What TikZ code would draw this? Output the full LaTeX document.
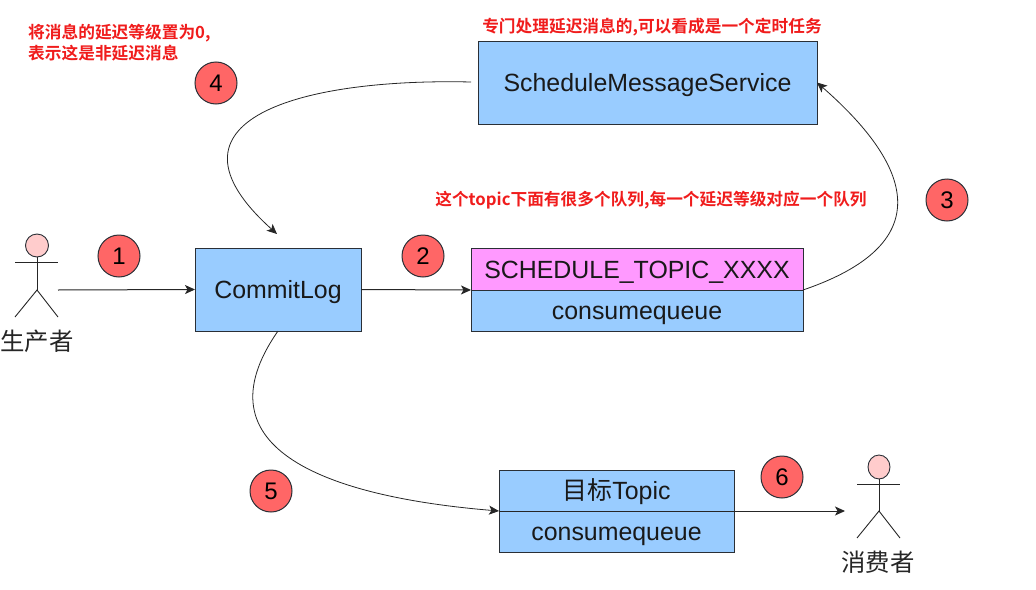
\documentclass[tikz,border=0pt]{standalone}
\usepackage{fontspec}
\setmainfont{Liberation Sans}
\newfontfamily\cjk{Noto Sans CJK SC}
\newfontfamily\cjkb{Noto Sans CJK SC Bold}
\usetikzlibrary{arrows.meta,shapes.geometric}
\definecolor{boxblue}{HTML}{99CCFF}
\definecolor{boxpink}{HTML}{FF99FF}
\definecolor{badge}{HTML}{FF6666}
\definecolor{headc}{HTML}{FFCCCC}
\definecolor{linec}{HTML}{2A2F36}
\definecolor{notered}{HTML}{F01C1C}
\tikzset{
  x=1pt,y=-1pt,
  boxn/.style={draw=linec,line width=1pt,fill=boxblue,inner sep=0pt,outer sep=0pt,text=black!90,text height=18pt,text depth=0pt,font=\fontsize{24.9}{26}\selectfont},
  badgen/.style={circle,draw=linec,line width=1pt,fill=badge,minimum size=42pt,inner sep=0pt,font=\fontsize{24}{26}\selectfont},
  conn/.style={draw=black!85,line width=1pt,-{Stealth[length=10pt,width=9pt,inset=2.5pt]}},
  thin conn/.style={conn,line width=.8pt},
  limb/.style={draw=black!85,line width=.9pt},
  headn/.style={ellipse,draw=linec,line width=.9pt,fill=headc,inner sep=0pt},
  note/.style={text=notered,font=\cjkb\fontsize{16.7}{21}\selectfont,inner sep=0pt,align=left},
  actorlabel/.style={inner sep=0pt,text=black!85,font=\cjk\fontsize{24.4}{26}\selectfont},
}
\begin{document}
\begin{tikzpicture}
\useasboundingbox (0,0) rectangle (1036,589);
% boxes
\node[boxn,minimum width=166pt,minimum height=83pt] (commit) at (278,289.5) {CommitLog};
\node[boxn,minimum width=339pt,minimum height=83pt] (sched) at (647.5,82.5) {ScheduleMessageService};
\node[boxn,fill=boxpink,minimum width=332pt,minimum height=42pt] (topicA) at (637,269) {SCHEDULE\_TOPIC\_XXXX};
\node[boxn,minimum width=332pt,minimum height=41pt] (topicB) at (637,310.5) {consumequeue};
\node[boxn,minimum width=235pt,minimum height=41pt] (targetA) at (616.5,490.5) {{\cjk 目标}Topic};
\node[boxn,minimum width=235pt,minimum height=41pt] (targetB) at (616.5,531.5) {consumequeue};
% badges
\node[badgen] (b1) at (119,256) {1};
\node[badgen] (b2) at (423,256) {2};
\node[badgen] (b3) at (947,200) {3};
\node[badgen] (b4) at (216,83) {4};
\node[badgen] (b5) at (271,491) {5};
\node[badgen] (b6) at (782,477) {6};
% producer
\node[headn,minimum width=23pt,minimum height=23pt] (phead) at (37,245.5) {};
\coordinate (parml) at (15,262);
\coordinate (parmr) at (58,262);
\coordinate (phip) at (37,290);
\coordinate (plegl) at (15,317);
\coordinate (plegr) at (58,317);
\coordinate (pout) at (58,290);
\draw[limb] (phead.south) -- (phip);
\draw[limb] (parml) -- (parmr);
\draw[limb] (plegl) -- (phip) -- (plegr);
\node[actorlabel] (plabel) at (37,341) {生产者};
% consumer
\node[headn,minimum width=22pt,minimum height=24pt] (chead) at (879,467) {};
\coordinate (carml) at (857,484.5);
\coordinate (carmr) at (900,484.5);
\coordinate (chip) at (879,511);
\coordinate (clegl) at (857,538);
\coordinate (clegr) at (900,538);
\coordinate (cin) at (845,511);
\draw[limb] (chead.south) -- (chip);
\draw[limb] (carml) -- (carmr);
\draw[limb] (clegl) -- (chip) -- (clegr);
\node[actorlabel] (clabel) at (878,562) {消费者};
% connectors
\coordinate (schedout) at (471,82);
\coordinate (commitin) at (277,234);
\draw[conn] (pout) -- (commit.west);
\draw[conn] (commit.east) -- (topicA.south west);
\draw[thin conn] (topicA.south east) .. controls (935,245) and (917,170) .. (sched.east);
\draw[thin conn] (schedout) .. controls (300,78) and (150,120) .. (commitin);
\draw[thin conn] (commit.south) .. controls (195,450) and (330,497) .. (targetA.south west);
\draw[conn] (targetA.south west) -- (cin);
% notes
\node[note,anchor=north west] (n1) at (28,24) {将消息的延迟等级置为0,\\表示这是非延迟消息};
\node[note,anchor=center] (n2) at (652,27) {专门处理延迟消息的,可以看成是一个定时任务};
\node[note,anchor=center] (n3) at (651,200) {这个topic下面有很多个队列,每一个延迟等级对应一个队列};
\end{tikzpicture}
\end{document}
